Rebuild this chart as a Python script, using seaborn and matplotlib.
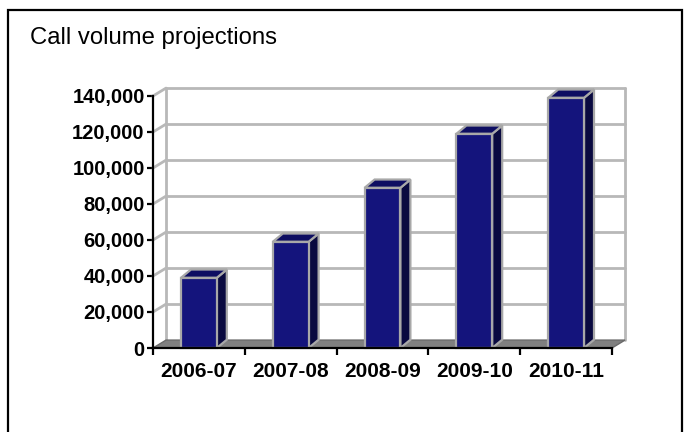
import numpy as np
import pandas as pd
import matplotlib
matplotlib.use('Agg')
import matplotlib.pyplot as plt
import seaborn as sns
from matplotlib.patches import Polygon, Rectangle

years = ['2006-07', '2007-08', '2008-09', '2009-10', '2010-11']
calls = [39000, 59000, 89000, 119000, 139000]
y_ticks = [0, 20000, 40000, 60000, 80000, 100000, 120000, 140000]

front_col = '#14147c'
top_col = '#0e0e62'
side_col = '#0a0a40'
edge_col = '#a8a8a8'
grid_col = '#b8b8b8'

sns.set_style('white')
plt.rcParams['font.family'] = ['Liberation Sans', 'DejaVu Sans']
plt.rcParams['text.color'] = 'black'
plt.rcParams['xtick.color'] = 'black'
plt.rcParams['ytick.color'] = 'black'

df = pd.DataFrame({'year': years, 'calls': calls})

fig = plt.figure(figsize=(6.86, 4.32), dpi=100)
ax = fig.add_axes([153/686, 1 - 348/432, 459/686, 252/432])

sns.barplot(data=df, x='year', y='calls', color=front_col, saturation=1,
            width=0.39, edgecolor=edge_col, linewidth=1.6, ax=ax, zorder=5)
ax.set_xlim(-0.5, len(years) - 0.5)
ax.set_ylim(0, y_ticks[-1])

# fake depth: walls and bars
wx, wy = 0.142, 4400
bx, by = 0.109, 4600
x0, x1 = -0.5, len(years) - 0.5

floor = Polygon([(x0, 0), (x1, 0), (x1 + wx, wy), (x0 + wx, wy)], closed=True,
                facecolor='#808080', edgecolor='#6a6a6a', lw=1, zorder=2, clip_on=False)
ax.add_patch(floor)
for v in y_ticks[1:]:
    ax.plot([x0 + wx, x1 + wx], [v + wy, v + wy], color=grid_col, lw=2, zorder=1, clip_on=False)
    ax.plot([x0, x0 + wx], [v, v + wy], color=grid_col, lw=2, zorder=1, clip_on=False)
for xx in [x0 + wx, x1 + wx]:
    ax.plot([xx, xx], [wy, y_ticks[-1] + wy], color=grid_col, lw=2, zorder=1, clip_on=False)

for p in ax.patches[:len(years)]:
    l = p.get_x()
    r = l + p.get_width()
    h = p.get_height()
    side = Polygon([(r, 0), (r + bx, by), (r + bx, h + by), (r, h)], closed=True,
                   facecolor=side_col, edgecolor=edge_col, lw=1.6, zorder=4, clip_on=False)
    top = Polygon([(l, h), (r, h), (r + bx, h + by), (l + bx, h + by)], closed=True,
                  facecolor=top_col, edgecolor=edge_col, lw=1.6, zorder=4, clip_on=False)
    ax.add_patch(side)
    ax.add_patch(top)
    p.set_clip_on(False)

# axes styling
for s in ['top', 'right']:
    ax.spines[s].set_visible(False)
for s in ['left', 'bottom']:
    ax.spines[s].set_color('black')
    ax.spines[s].set_linewidth(1.6)
    ax.spines[s].set_zorder(6)

ax.set_yticks(y_ticks)
ax.set_yticklabels([f'{v:,}' for v in y_ticks], fontsize=14.5, fontweight='bold')
ax.tick_params(axis='y', direction='out', length=4, width=1.6, pad=2, left=True, color='black')

ax.set_xticks(np.arange(len(years) + 1) - 0.5)
ax.set_xticklabels([''] * (len(years) + 1))
ax.set_xticks(np.arange(len(years)), minor=True)
ax.set_xticklabels(years, minor=True, fontsize=15, fontweight='bold')
ax.tick_params(axis='x', which='major', direction='out', length=5, width=1.6, bottom=True, color='black')
ax.tick_params(axis='x', which='minor', length=0, pad=10)
ax.set_xlabel('')
ax.set_ylabel('')
ax.grid(False)

fig.text(30/686, 1 - 44/432, 'Call volume projections', fontsize=17.2, va='baseline', ha='left')
fig.patches.append(Rectangle((8/686, -0.1), 674/686, 1.1 - 10/432, transform=fig.transFigure,
                             fill=False, edgecolor='black', lw=1.6))

fig.savefig('out.png', dpi=100)
